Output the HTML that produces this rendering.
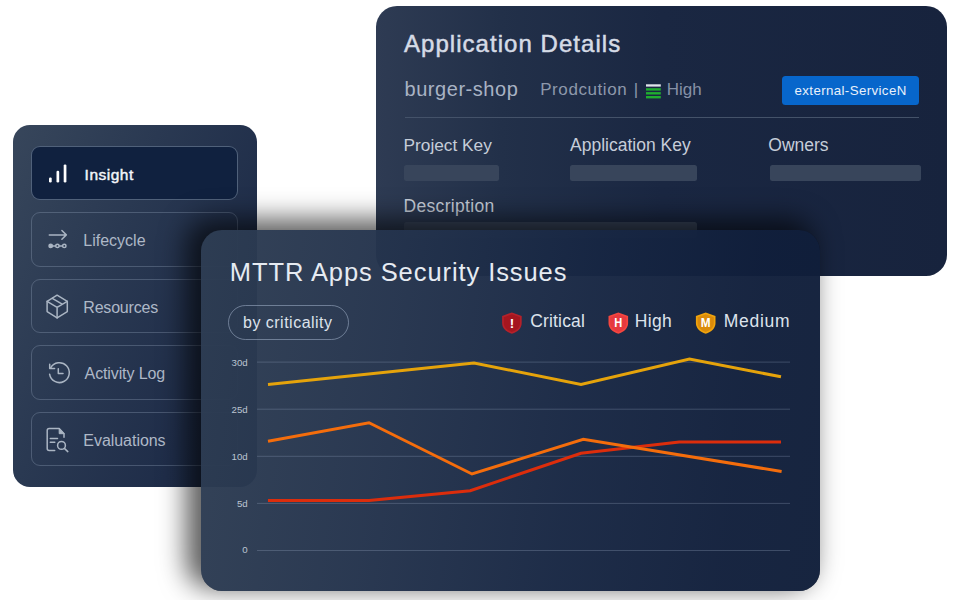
<!DOCTYPE html>
<html lang="en">
<head>
<meta charset="utf-8">
<title>MTTR Apps Security Issues</title>
<style>
*{box-sizing:border-box;margin:0;padding:0}
html,body{width:960px;height:600px;overflow:hidden;background:#fff}
body{position:relative;font-family:"Liberation Sans",sans-serif;color:#dfe5ee}
.abs{position:absolute}
.t{position:absolute;white-space:nowrap;line-height:1}

/* ---------- sidebar ---------- */
#side{position:absolute;left:13px;top:125px;width:243.5px;height:361.5px;border-radius:17px;
  background:linear-gradient(112deg,#37465b 0%,#2a3952 38%,#1f2d49 75%,#1c2a46 100%)}
.item{position:absolute;left:18px;width:207px;height:54.5px;border:1px solid rgba(160,176,200,.30);border-radius:9px}
.item.active{background:#10213f;border-color:rgba(170,185,205,.42)}
.item .lbl{position:absolute;left:51.3px;top:20px;font-size:16px;line-height:1;color:#aeb8c7;white-space:nowrap}
.item.active .lbl{color:#f3f6fa;font-size:15.500px;left:52.600px;top:20.400px;letter-spacing:.5px;-webkit-text-stroke:.45px #f3f6fa}
.item svg{position:absolute;left:0;top:0;overflow:visible}

/* ---------- application details ---------- */
#app{position:absolute;left:375.5px;top:5.5px;width:571.5px;height:270px;border-radius:21px;
  background:linear-gradient(90deg,#2e3b53 0%,#223049 22%,#1a2742 50%,#17233d 100%)}
.ph{position:absolute;height:16px;border-radius:2.5px;background:#38455b}

/* ---------- front card ---------- */
#shadow{position:absolute;left:201px;top:229.500px;width:619px;height:361.200px;border-radius:21px;
  background:rgba(0,0,0,.6);box-shadow:-11px -7px 27px 4px rgba(0,0,0,.64)}
#card{position:absolute;left:201px;top:229.500px;width:619px;height:361.200px;border-radius:21px;overflow:hidden;
  background:linear-gradient(97deg,rgba(48,64,87,.92) 0%,rgba(37,53,80,.92) 30%,rgba(24,40,70,.92) 60%,rgba(17,32,62,.92) 85%,rgba(16,31,60,.92) 100%)}
</style>
</head>
<body>

<!-- ================= SIDEBAR ================= -->
<div id="side">
  <div class="item active" style="top:20.500px">
    <svg width="207" height="55" viewBox="0 0 207 55" fill="none">
      <g fill="#fff">
        <rect x="17" y="30.400" width="2.700" height="5.100" rx="1.200"/>
        <rect x="24.500" y="23.800" width="2.700" height="11.700" rx="1.200"/>
        <rect x="31.700" y="17.400" width="2.700" height="18.100" rx="1.200"/>
      </g>
    </svg>
    <span class="lbl">Insight</span>
  </div>
  <div class="item" style="top:87px">
    <svg width="207" height="55" viewBox="0 0 207 55" fill="none" stroke="#aab5c3" stroke-width="1.500" stroke-linecap="round" stroke-linejoin="round">
      <path d="M17.300 21.900H34.200M29.900 17.500l4.400 4.400-4.400 4.400"/>
      <path d="M20.600 32.900h2.900M27.400 32.900h2.900"/>
      <circle cx="18.700" cy="32.900" r="1.700" fill="#aab5c3"/>
      <circle cx="25.400" cy="32.900" r="1.700"/>
      <circle cx="32.300" cy="32.900" r="1.700"/>
    </svg>
    <span class="lbl">Lifecycle</span>
  </div>
  <div class="item" style="top:153.500px">
    <svg width="207" height="55" viewBox="0 0 207 55" fill="none" stroke="#aab5c3" stroke-width="1.500" stroke-linecap="round" stroke-linejoin="round">
      <path d="M25.100 15.200l10.200 6.200v10.200l-10.200 6.300-10-6.300V21.400z"/>
      <path d="M15.100 21.400l10 5.900 10.200-5.900M25.100 27.300v10.600M20.300 18.300l9.900 5.800"/>
    </svg>
    <span class="lbl" style="letter-spacing:-.2px">Resources</span>
  </div>
  <div class="item" style="top:220px">
    <svg width="207" height="55" viewBox="0 0 207 55" fill="none" stroke="#aab5c3" stroke-width="1.500" stroke-linecap="round" stroke-linejoin="round">
      <path d="M18.700 21.900A9.900 9.900 0 1 1 17.600 28.200"/>
      <path d="M17.700 18.300v4.200h4.900"/>
      <path d="M26.300 22.700v4.800h4.700"/>
    </svg>
    <span class="lbl" style="left:52.600px;letter-spacing:-.12px">Activity Log</span>
  </div>
  <div class="item" style="top:286.500px">
    <svg width="207" height="55" viewBox="0 0 207 55" fill="none" stroke="#aab5c3" stroke-width="1.500" stroke-linecap="round" stroke-linejoin="round">
      <path d="M22.700 37.500h-5.500a2 2 0 0 1-2-2V17.600a2 2 0 0 1 2-2h10l4.800 5.100v3.600"/>
      <path d="M27.200 15.900v4.800h4.600z" fill="#aab5c3" stroke-width="1"/>
      <path d="M18.300 25.400h7.200M18.300 29.200h4.500"/>
      <circle cx="29.500" cy="32.400" r="3.900"/>
      <path d="M32.400 35.400l3.400 3.200"/>
    </svg>
    <span class="lbl" style="left:51.300px;letter-spacing:-.04px">Evaluations</span>
  </div>
</div>

<!-- ================= APPLICATION DETAILS ================= -->
<div id="app">
  <span class="t" id="t-app" style="left:28.500px;top:26.100px;font-size:24px;letter-spacing:1.040px;color:#d5dbe6;-webkit-text-stroke:.5px #d5dbe6">Application Details</span>
  <span class="t" id="t-burger" style="left:29px;top:73px;font-size:20px;letter-spacing:.55px;color:#a9b3c4">burger-shop</span>
  <span class="t" id="t-prod" style="left:164.700px;top:75.500px;font-size:17px;letter-spacing:.58px;color:#8d98ab">Prodcution</span>
  <span class="t" id="t-bar" style="left:258.300px;top:75.500px;font-size:17px;color:#8d98ab">|</span>
  <svg class="abs" style="left:270.5px;top:78.5px" width="15" height="15" viewBox="0 0 15 15">
    <rect x="0" y=".3" width="14.800" height="2.300" fill="#e1e5ec"/>
    <rect x="0" y="4.200" width="14.800" height="2.400" fill="#1fae2f"/>
    <rect x="0" y="8.100" width="14.800" height="2.400" fill="#1fae2f"/>
    <rect x="0" y="12" width="14.800" height="2.400" fill="#1fae2f"/>
  </svg>
  <span class="t" id="t-high" style="left:291.300px;top:75.500px;font-size:17px;color:#8691a6">High</span>
  <div class="abs" style="left:406.500px;top:70.500px;width:136.500px;height:29px;border-radius:3.500px;background:#0766cb"></div>
  <span class="t" id="t-ext" style="left:419px;top:78.100px;font-size:13.300px;letter-spacing:.38px;color:#e9f1fb">external-ServiceN</span>
  <div class="abs" style="left:29px;top:111.500px;width:514px;height:1px;background:#445269"></div>

  <span class="t" id="t-pk" style="left:28px;top:131.300px;font-size:17.300px;color:#c6cdd9">Project Key</span>
  <span class="t" id="t-ak" style="left:194.500px;top:131.300px;font-size:17.500px;color:#c6cdd9">Application Key</span>
  <span class="t" id="t-ow" style="left:392.800px;top:131.300px;font-size:17.500px;color:#c6cdd9">Owners</span>
  <div class="ph" style="left:28.800px;top:159.300px;width:94.500px"></div>
  <div class="ph" style="left:194.500px;top:159.300px;width:126.500px"></div>
  <div class="ph" style="left:394.500px;top:159.300px;width:150.500px"></div>
  <span class="t" id="t-desc" style="left:28px;top:192px;font-size:17.500px;letter-spacing:.32px;color:#c6cdd9">Description</span>
  <div class="ph" style="left:28.800px;top:216.800px;width:292.500px"></div>
</div>

<!-- ================= FRONT CARD ================= -->
<div id="shadow"></div>
<div id="card">
  <span class="t" id="t-mttr" style="left:28.800px;top:30.800px;font-size:25.500px;letter-spacing:.92px;color:#e6ebf2">MTTR Apps Security Issues</span>

  <div class="abs" style="left:26.800px;top:75.800px;width:121.500px;height:35px;border-radius:18px;border:1px solid rgba(150,166,190,.62)"></div>
  <span class="t" id="t-by" style="left:42px;top:85.300px;font-size:16px;letter-spacing:.49px;color:#dde3ec">by criticality</span>

  <!-- legend -->
  <svg class="abs" style="left:0;top:0" width="619" height="361" viewBox="0 0 619 361">
    <g id="sh-c" transform="translate(301.1,82.400)">
      <path d="M9.800 0 19.600 3.600V10.600C19.600 15.800 15.600 19.500 9.800 21.400 4 19.500 0 15.800 0 10.600V3.600Z" fill="#b5212a"/>
      <path d="M9.800 1.900 17.900 4.900V10.600C17.900 14.800 14.600 17.900 9.800 19.600 5 17.900 1.700 14.800 1.700 10.600V4.900Z" fill="#a5161f"/>
    </g>
    <g id="sh-h" transform="translate(407.5,82.400)">
      <path d="M9.800 0 19.600 3.600V10.600C19.600 15.800 15.600 19.500 9.800 21.400 4 19.500 0 15.800 0 10.600V3.600Z" fill="#f5463f"/>
      <path d="M9.800 1.900 17.900 4.900V10.600C17.900 14.800 14.600 17.900 9.800 19.600 5 17.900 1.700 14.800 1.700 10.600V4.900Z" fill="#e63a3f"/>
    </g>
    <g id="sh-m" transform="translate(494.9,82.400)">
      <path d="M9.800 0 19.600 3.600V10.600C19.600 15.800 15.600 19.500 9.800 21.400 4 19.500 0 15.800 0 10.600V3.600Z" fill="#f0a30c"/>
      <path d="M9.800 1.900 17.900 4.900V10.600C17.900 14.800 14.600 17.900 9.800 19.600 5 17.900 1.700 14.800 1.700 10.600V4.900Z" fill="#da8b0b"/>
    </g>
    <g font-family="Liberation Sans, sans-serif" font-weight="bold" fill="#fff" text-anchor="middle">
      <text x="310.900" y="98.200" font-size="13.400">!</text>
      <text x="417.300" y="97.400" font-size="13.200" textLength="8" lengthAdjust="spacingAndGlyphs">H</text>
      <text x="504.700" y="97.400" font-size="13.200" textLength="9.800" lengthAdjust="spacingAndGlyphs">M</text>
    </g>
  </svg>
  <span class="t" id="t-crit" style="left:329.300px;top:83.200px;font-size:17.500px;letter-spacing:.15px;color:#dde3ec">Critical</span>
  <span class="t" id="t-hi" style="left:433.800px;top:83.200px;font-size:17.500px;letter-spacing:.3px;color:#dde3ec">High</span>
  <span class="t" id="t-med" style="left:522.800px;top:83.200px;font-size:17.500px;letter-spacing:.7px;color:#dde3ec">Medium</span>

  <!-- chart -->
  <svg class="abs" style="left:0;top:0" width="619" height="361" viewBox="0 0 619 361">
    <g stroke="rgba(150,166,190,.31)" stroke-width="1">
      <path d="M56 132.100H589M56 179.200H589M56 226.300H589M56 273.400H589M56 320.500H589"/>
    </g>
    <g font-family="Liberation Sans, sans-serif" font-size="9.700" fill="#bcc5d2" text-anchor="end">
      <text x="46.700" y="136.100">30d</text>
      <text x="46.700" y="183.200">25d</text>
      <text x="46.700" y="230.300">10d</text>
      <text x="46.700" y="277.400">5d</text>
      <text x="46.700" y="323.300">0</text>
    </g>
    <g fill="none" stroke-width="3" stroke-linejoin="miter" stroke-linecap="butt">
      <polyline stroke="#e5a30b" points="67,154.500 273,133 380,154.500 488.500,129 580,146.800"/>
      <polyline stroke="#dc2d0c" points="67,270.600 168,270.600 269.200,260.700 380,223.300 478.300,212 580,212"/>
      <polyline stroke="#f46d0c" points="67,211.200 168,192.700 271,244 382.300,209.200 580.600,241.500"/>
    </g>
  </svg>
</div>

</body>
</html>
